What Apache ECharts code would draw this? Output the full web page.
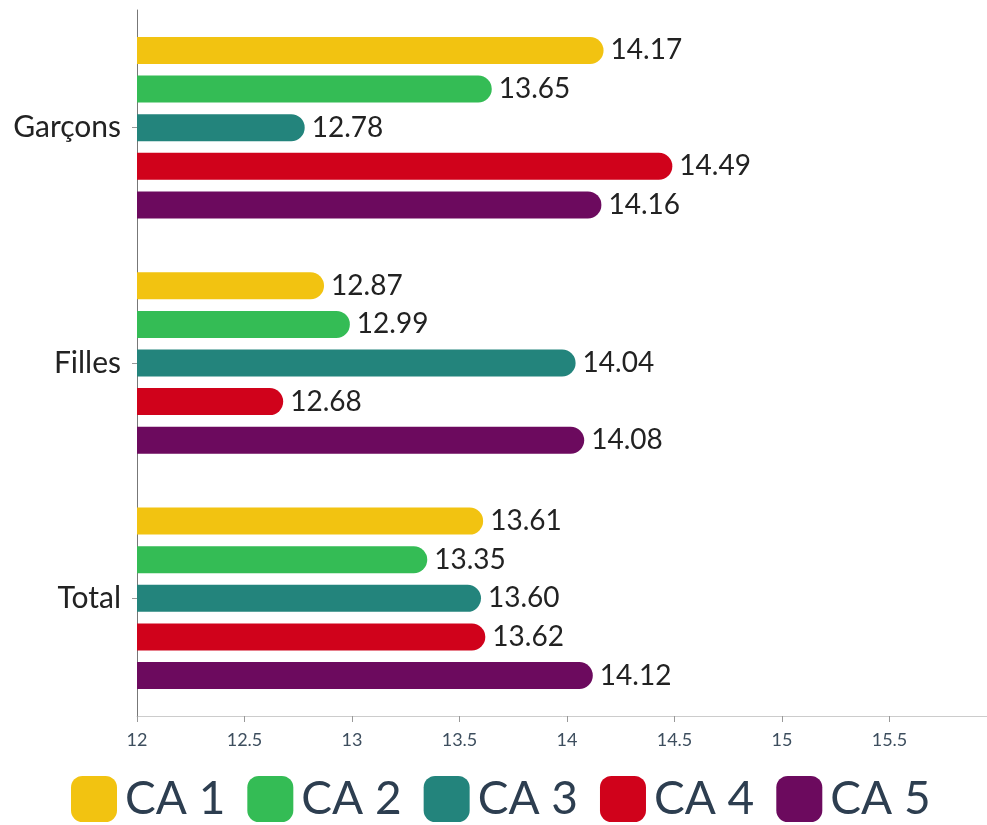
<!DOCTYPE html>
<html>
<head>
<meta charset="utf-8">
<script src="https://cdn.jsdelivr.net/npm/echarts@6/dist/echarts.min.js"></script>
<style>
    html, body { margin: 0; padding: 0; background: #fff; }
    #chart { width: 987px; height: 825px; }
</style>
</head>
<body>
<div id="chart"></div>
<script>
var categories = ['Garçons', 'Filles', 'Total'];
var seriesNames = ['CA 1', 'CA 2', 'CA 3', 'CA 4', 'CA 5'];
var ca1 = [14.17, 12.87, 13.61];
var ca2 = [13.65, 12.99, 13.35];
var ca3 = [12.78, 14.04, 13.60];
var ca4 = [14.49, 12.68, 13.62];
var ca5 = [14.16, 14.08, 14.12];
var colors = ['#F2C311', '#34BC55', '#23847C', '#D0021B', '#6C0A5E'];

var chart = echarts.init(document.getElementById('chart'));
var allData = [ca1, ca2, ca3, ca4, ca5];

var series = allData.map(function (d, i) {
    return {
        name: seriesNames[i],
        type: 'bar',
        data: d,
        barWidth: 27,
        barGap: '43%',
        itemStyle: {
            color: colors[i],
            borderRadius: [0, 14, 14, 0]
        },
        label: {
            show: true,
            position: 'right',
            distance: 7,
            color: '#222',
            fontFamily: 'Lato',
            fontSize: 28,
            formatter: function (p) { return p.value.toFixed(2); }
        }
    };
});

var option = {
    animation: false,
    color: colors,
    grid: {
        left: 137,
        right: -10,
        top: 10,
        bottom: 109,
        outerBoundsMode: 'none'
    },
    legend: {
        bottom: -2,
        left: 66,
        itemWidth: 46,
        itemHeight: 46,
        itemGap: 22,
        icon: 'roundRect',
        textStyle: {
            fontFamily: 'Lato',
            fontSize: 46,
            color: '#2D3E50',
            padding: [0, 0, 0, 3]
        },
        data: seriesNames
    },
    xAxis: {
        type: 'value',
        min: 12,
        max: 16,
        interval: 0.5,
        splitLine: { show: false },
        axisLine: { show: true, lineStyle: { color: '#ccc' } },
        axisTick: { show: true, length: 6, lineStyle: { color: '#999' } },
        axisLabel: {
            color: '#3D4E5E',
            fontFamily: 'Lato',
            fontSize: 18,
            margin: 15
        }
    },
    yAxis: {
        type: 'category',
        inverse: true,
        data: categories,
        axisLine: { show: true, lineStyle: { color: '#777' } },
        axisTick: { show: true, alignWithLabel: true, length: 5, lineStyle: { color: '#999' } },
        axisLabel: {
            color: '#222',
            fontFamily: 'Lato',
            fontSize: 30,
            margin: 16
        }
    },
    series: series
};

chart.setOption(option);
</script>
</body>
</html>
